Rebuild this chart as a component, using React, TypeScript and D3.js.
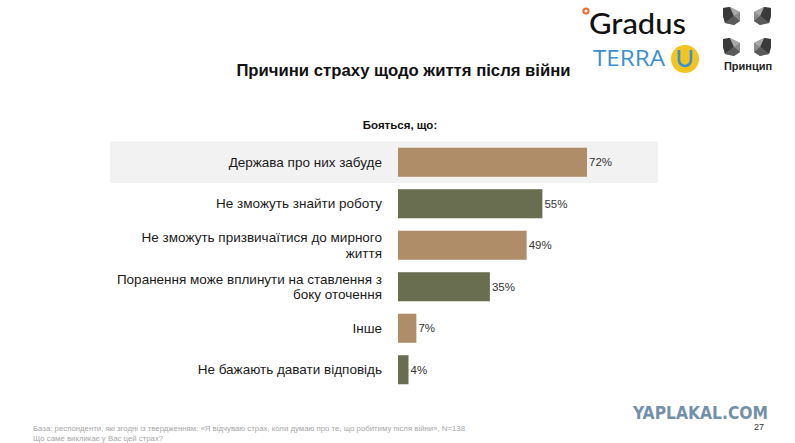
import {useMemo} from 'react'
import * as d3 from 'd3'

const WIDTH = 795
const HEIGHT = 443
const FONT = 'Arial, "Liberation Sans", sans-serif'

const TITLE = 'Причини страху щодо життя після війни'
const SUBTITLE = 'Бояться, що:'

const categories = [
  'Держава про них забуде',
  'Не зможуть знайти роботу',
  'Не зможуть призвичаїтися до мирного життя',
  'Поранення може вплинути на ставлення з боку оточення',
  'Інше',
  'Не бажають давати відповідь',
]
const values = [72, 55, 49, 35, 7, 4]

const FOOTNOTES = [
  'База: респонденти, які згодні із твердженням: «Я відчуваю страх, коли думаю про те, що робитиму після війни», N=138',
  'Що саме викликає у Вас цей страх?',
]
const PAGE = '27'

const TAN = '#ae8d68'
const OLIVE = '#6a6e50'

// simple word wrap by character count
const wrap = (s: string, max: number) => {
  const lines: string[] = []
  let cur = ''
  s.split(' ').forEach(w => {
    const next = cur ? cur + ' ' + w : w
    if (next.length > max && cur) {
      lines.push(cur)
      cur = w
    } else cur = next
  })
  if (cur) lines.push(cur)
  return lines
}

const Logos = () => (
  <g>
    {/* Gradus */}
    <circle cx={586} cy={11} r={2.6} fill="none" stroke="#ef6a2a" strokeWidth={2} />
    <text
      x={589}
      y={34}
      fontFamily='Lato, "Open Sans", sans-serif'
      fontSize={28}
      fontWeight={500}
      fill="#111"
      textLength={97}
      lengthAdjust="spacingAndGlyphs">
      Gradus
    </text>
    {/* TERRA U */}
    <text
      x={593}
      y={66}
      fontFamily='"Open Sans", sans-serif'
      fontSize={21}
      fill="#3b8fd3"
      textLength={72}
      lengthAdjust="spacingAndGlyphs">
      TERRA
    </text>
    <circle cx={685} cy={59} r={14} fill="#f3c41e" />
    <path d="M679,50 V60 A6,6 0 0 0 691,60 V50" fill="none" stroke="#3b8fd3" strokeWidth={2.6} />
    {/* Принцип */}
    {[
      [723, 7, 0],
      [754, 7, 1],
      [723, 38, 2],
      [754, 38, 3],
    ].map(([x, y, k]) => (
      <g key={k} transform={`translate(${x},${y})${k % 2 ? ' translate(17,0) scale(-1,1)' : ''}`}>
        <polygon points="0,1 7,0 17,5 17,14 11,18 2,16 0,9" fill="#8a8a8a" />
        <polygon points="0,1 7,0 11,9 2,16 0,9" fill="#3a3a3a" />
        <polygon points="7,0 17,5 11,9" fill="#a8a8a8" />
        <polygon points="11,9 17,14 11,18 2,16" fill="#5a5a5a" />
      </g>
    ))}
    <text x={748} y={70} textAnchor="middle" fontFamily={FONT} fontSize={11} fontWeight={600} fill="#222">
      Принцип
    </text>
  </g>
)

export default function App() {
  const barLeft = 398
  const x = useMemo(() => d3.scaleLinear().domain([0, 100]).range([barLeft, barLeft + 262.5]), [])
  const y = useMemo(
    () => d3.scaleBand<string>().domain(categories).range([141.5, 390.5]).paddingInner(0.3).paddingOuter(0.15),
    []
  )
  const labelX = 382

  return (
    <div style={{position: 'fixed', left: 0, top: 0}}>
      <svg width={WIDTH} height={HEIGHT} style={{display: 'block', background: '#fff'}}>
        <Logos />
        <text x={403.5} y={76} textAnchor="middle" fontFamily={FONT} fontSize={16.7} fontWeight="bold" fill="#111">
          {TITLE}
        </text>
        <text x={400} y={129} textAnchor="middle" fontFamily={FONT} fontSize={11.5} fontWeight="bold" fill="#111">
          {SUBTITLE}
        </text>

        {/* highlight row */}
        <rect
          x={110}
          y={y(categories[0])! - (y.step() - y.bandwidth()) / 2}
          width={548}
          height={y.step()}
          fill="#f2f2f2"
        />

        {categories.map((c, i) => {
          const cy = y(c)! + y.bandwidth() / 2
          const lines = wrap(c, 38)
          const lh = 15.5
          return (
            <g key={c}>
              <rect
                x={x(0)}
                y={y(c)}
                width={x(values[i]) - x(0)}
                height={y.bandwidth()}
                fill={i % 2 === 0 ? TAN : OLIVE}
              />
              {lines.map((l, j) => (
                <text
                  key={j}
                  x={labelX}
                  y={cy + (j - (lines.length - 1) / 2) * lh}
                  dy="0.35em"
                  textAnchor="end"
                  fontFamily={FONT}
                  fontSize={13.5}
                  fill="#1a1a1a">
                  {l}
                </text>
              ))}
              <text
                x={x(values[i]) + 2}
                y={cy}
                dy="0.35em"
                fontFamily={FONT}
                fontSize={11.5}
                fill="#333">
                {values[i]}%
              </text>
            </g>
          )
        })}

        {/* footer */}
        {FOOTNOTES.map((f, i) => (
          <text key={i} x={33} y={431 + i * 10} fontFamily={FONT} fontSize={7.8} fill="#a6a6a6">
            {f}
          </text>
        ))}
        <text x={764} y={430} textAnchor="end" fontFamily={FONT} fontSize={9} fill="#333">
          {PAGE}
        </text>
        <text
          x={633}
          y={419}
          fontFamily='"Liberation Sans Narrow", "DejaVu Sans Condensed", sans-serif'
          fontSize={17}
          fontWeight="bold"
          fill="#7390aa"
          textLength={135}
          lengthAdjust="spacingAndGlyphs">
          YAPLAKAL.COM
        </text>
      </svg>
    </div>
  )
}
